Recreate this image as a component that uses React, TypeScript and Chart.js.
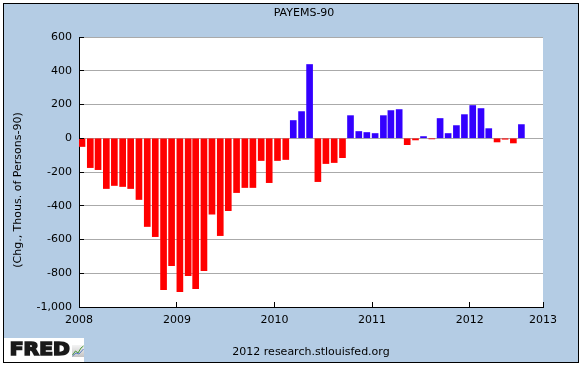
import React, { useEffect, useRef } from "react";
import { Chart, registerables } from "chart.js";

Chart.register(...registerables);

const FONT = "'DejaVu Sans', Verdana, sans-serif";
const RED = "#ff0000";
const BLUE = "#3300ff";
const FRAME_BG = "#b4cce4";
const GRID = "#aaaaaa";

const CHART_TITLE = "PAYEMS-90";
const Y_TITLE = "(Chg., Thous. of Persons-90)";
const FOOTER = "2012 research.stlouisfed.org";

const AXIS_START = "2008-01-01";
const AXIS_END = "2012-10-01";

const months: string[] = [
  "2008-01", "2008-02", "2008-03", "2008-04", "2008-05", "2008-06",
  "2008-07", "2008-08", "2008-09", "2008-10", "2008-11", "2008-12",
  "2009-01", "2009-02", "2009-03", "2009-04", "2009-05", "2009-06",
  "2009-07", "2009-08", "2009-09", "2009-10", "2009-11", "2009-12",
  "2010-01", "2010-02", "2010-03", "2010-04", "2010-05", "2010-06",
  "2010-07", "2010-08", "2010-09", "2010-10", "2010-11", "2010-12",
  "2011-01", "2011-02", "2011-03", "2011-04", "2011-05", "2011-06",
  "2011-07", "2011-08", "2011-09", "2011-10", "2011-11", "2011-12",
  "2012-01", "2012-02", "2012-03", "2012-04", "2012-05", "2012-06",
  "2012-07",
];

const payemsChange: number[] = [
  -49, -174, -186, -298, -280, -286, -298, -363, -523, -583, -897, -755,
  -909, -814, -891, -784, -450, -577, -429, -322, -292, -292, -132, -263,
  -132, -126, 105, 158, 437, -257, -150, -144, -115, 134, 40, 34,
  28, 134, 164, 170, -38, -10, 10, -4, 117, 28, 75, 140,
  194, 176, 57, -22, -6, -28, 81,
];

const xTickDates: string[] = [
  "2008-01-01", "2009-01-01", "2010-01-01", "2011-01-01", "2012-01-01", "2012-10-01",
];
const xTickLabels: string[] = ["2008", "2009", "2010", "2011", "2012", "2013"];

const Y_MIN = -1000;
const Y_MAX = 600;
const Y_STEP = 200;

const BAR_PX = 6;

const dayOf = (s: string) => (Date.parse(s) - Date.parse(AXIS_START)) / 86400000;

export default function App() {
  const ref = useRef<HTMLCanvasElement>(null);

  useEffect(() => {
    document.body.style.margin = "0";
    const canvas = ref.current!;

    const framePlugin = {
      id: "fredFrame",
      beforeDraw(chart: any) {
        const { ctx, chartArea } = chart;
        const W = chart.width;
        const H = chart.height;
        ctx.save();
        ctx.fillStyle = "#ffffff";
        ctx.fillRect(0, 0, W, H);
        ctx.fillStyle = FRAME_BG;
        ctx.fillRect(3, 3, 576, 360);
        ctx.strokeStyle = "#000000";
        ctx.lineWidth = 1;
        ctx.strokeRect(3.5, 3.5, 575, 359);
        ctx.fillStyle = "#ffffff";
        ctx.fillRect(chartArea.left, chartArea.top, chartArea.right - chartArea.left, chartArea.bottom - chartArea.top);
        ctx.restore();
      },
      afterDraw(chart: any) {
        const { ctx, chartArea, scales } = chart;
        const align = (p: number) => Math.round(p - 0.5) + 0.5;
        ctx.save();
        // inward tick marks
        ctx.strokeStyle = "#000";
        ctx.lineWidth = 1;
        ctx.beginPath();
        scales.y.ticks.forEach((t: any) => {
          const y = align(scales.y.getPixelForValue(t.value));
          ctx.moveTo(chartArea.left, y);
          ctx.lineTo(chartArea.left + 5, y);
        });
        scales.x.ticks.forEach((t: any) => {
          const x = align(scales.x.getPixelForValue(t.value));
          ctx.moveTo(x, chartArea.bottom);
          ctx.lineTo(x, chartArea.bottom - 5);
        });
        ctx.stroke();

        // title
        ctx.fillStyle = "#000";
        ctx.font = `11px ${FONT}`;
        ctx.textAlign = "center";
        ctx.textBaseline = "middle";
        ctx.fillText(CHART_TITLE, 304, 13.5);
        // footer
        ctx.fillText(FOOTER, 311, 352);
        // y title
        ctx.save();
        ctx.translate(18, 190);
        ctx.rotate(-Math.PI / 2);
        ctx.fillText(Y_TITLE, 0, 0);
        ctx.restore();

        // FRED logo
        ctx.fillStyle = "#ffffff";
        ctx.fillRect(4, 338, 80, 24);
        ctx.fillStyle = "#1a1a1a";
        ctx.strokeStyle = "#1a1a1a";
        ctx.lineWidth = 1.6;
        ctx.lineJoin = "miter";
        ctx.font = `bold 18px ${FONT}`;
        ctx.textAlign = "left";
        ctx.textBaseline = "alphabetic";
        const w = ctx.measureText("FRED").width;
        ctx.save();
        ctx.translate(9.8, 354.5);
        ctx.scale(60 / w, 1);
        ctx.fillText("FRED", 0, 0);
        ctx.strokeText("FRED", 0, 0);
        ctx.restore();
        // small icon
        const g = ctx.createLinearGradient(72, 345, 72, 357);
        g.addColorStop(0, "#f4f4f4");
        g.addColorStop(1, "#c4c4c4");
        ctx.fillStyle = g;
        ctx.fillRect(72, 345, 12, 12);
        ctx.lineWidth = 1;
        ctx.strokeStyle = "#4a9a3a";
        ctx.beginPath();
        ctx.moveTo(72.5, 355);
        ctx.lineTo(75.5, 351);
        ctx.lineTo(78, 353);
        ctx.lineTo(81, 348);
        ctx.lineTo(83.5, 346);
        ctx.stroke();
        ctx.strokeStyle = "#5a7fc0";
        ctx.beginPath();
        ctx.moveTo(72.5, 356);
        ctx.lineTo(76, 353);
        ctx.lineTo(79, 354);
        ctx.lineTo(83.5, 349);
        ctx.stroke();
        ctx.restore();
      },
    };

    const barHalfDays = (BAR_PX / 2) / ((543 - 79) / dayOf(AXIS_END));

    const chart = new Chart(canvas, {
      type: "bar",
      data: {
        datasets: [
          {
            data: months.map((m, i) => ({ x: dayOf(m + "-01") + barHalfDays, y: payemsChange[i] })),
            backgroundColor: payemsChange.map((v) => (v < 0 ? RED : BLUE)),
            borderWidth: 0,
            barThickness: BAR_PX,
          },
        ],
      },
      options: {
        responsive: false,
        animation: false,
        devicePixelRatio: 1,
        layout: { padding: { left: 0, top: 37, right: 39, bottom: 0 } },
        plugins: {
          legend: { display: false },
          tooltip: { enabled: false },
          title: { display: false },
        },
        scales: {
          x: {
            type: "linear",
            offset: false,
            min: 0,
            max: dayOf(AXIS_END),
            afterBuildTicks: (s: any) => {
              s.ticks = xTickDates.map((d) => ({ value: dayOf(d) }));
            },
            afterFit: (s: any) => {
              s.height = 59;
            },
            ticks: {
              autoSkip: false,
              maxRotation: 0,
              padding: 7,
              color: "#000",
              font: { family: FONT, size: 11 },
              callback: (_v: any, i: number) => xTickLabels[i],
            },
            grid: { display: false, drawTicks: false, offset: false },
            border: { display: true, color: "#000", width: 1 },
          },
          y: {
            min: Y_MIN,
            max: Y_MAX,
            afterFit: (s: any) => {
              s.width = 79;
            },
            ticks: {
              stepSize: Y_STEP,
              padding: 7,
              color: "#000",
              font: { family: FONT, size: 11 },
              callback: (v: any) => Number(v).toLocaleString("en-US"),
            },
            grid: { color: GRID, drawTicks: false },
            border: { display: true, color: "#000", width: 1 },
          },
        },
      } as any,
      plugins: [framePlugin],
    });
    return () => chart.destroy();
  }, []);

  return <canvas ref={ref} width={582} height={366} style={{ display: "block" }} />;
}
